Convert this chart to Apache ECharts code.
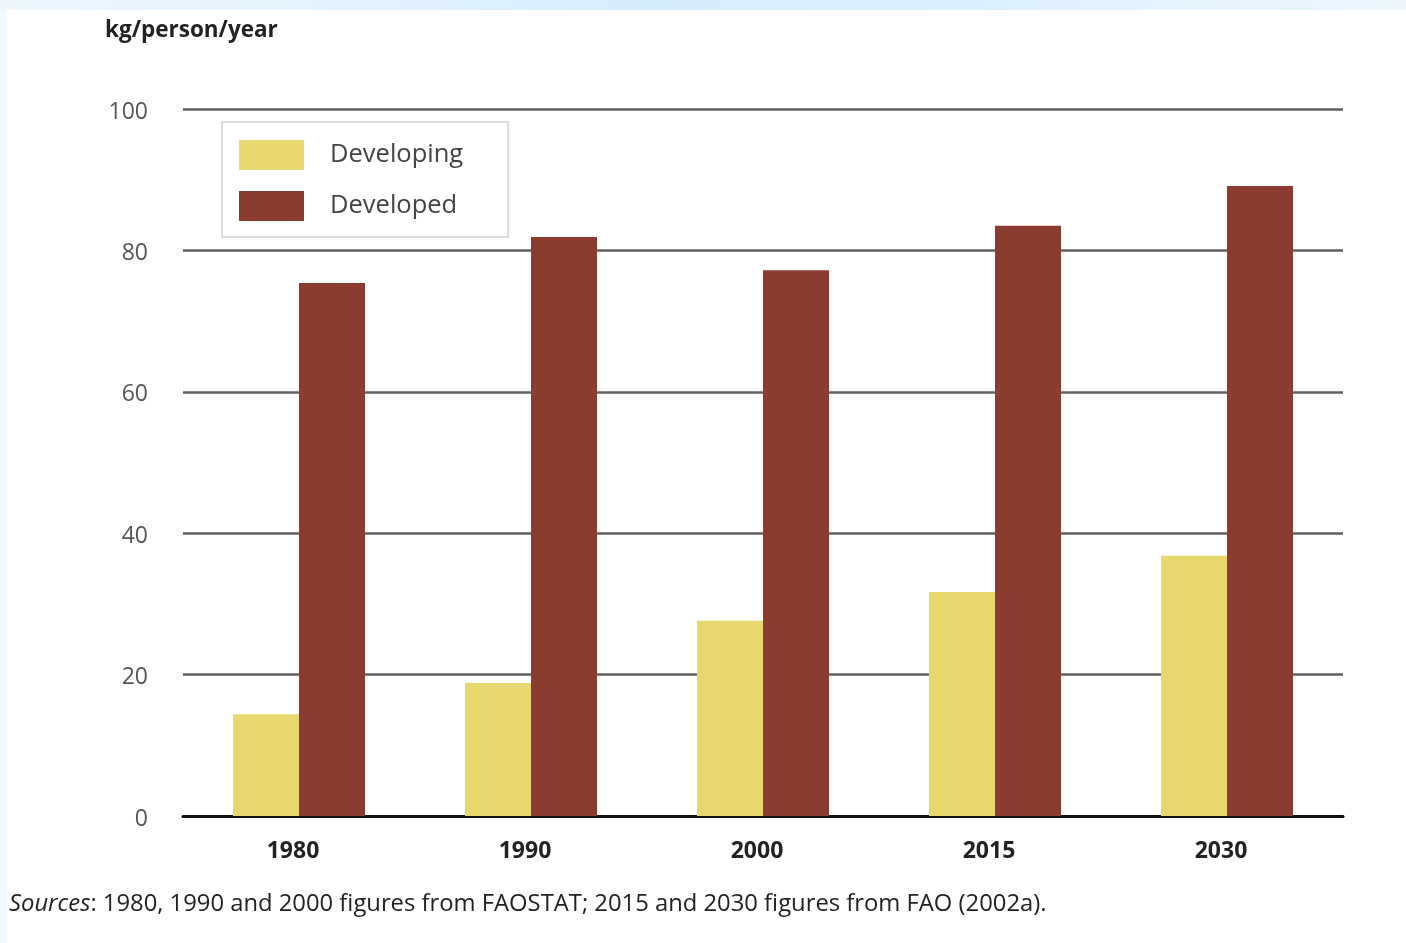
<!DOCTYPE html>
<html>
<head>
<meta charset="utf-8">
<script src="https://cdn.jsdelivr.net/npm/echarts@6/dist/echarts.min.js"></script>
<style>
  html, body { margin: 0; padding: 0; width: 1406px; height: 943px; overflow: hidden; }
  body { background: #f1f8fe; position: relative; }
  #band { position: absolute; left: 0; top: 0; width: 1406px; height: 10px;
          background: linear-gradient(to right, #eef7fe 0%, #d8edfb 45%, #dcefFC 70%, #eef7fe 100%); }
  #panel { position: absolute; left: 7px; top: 10px; right: 0; bottom: 0; background: #ffffff; }
  #chart { position: absolute; left: 0; top: 0; width: 1406px; height: 943px; }
</style>
</head>
<body>
<div id="band"></div>
<div id="panel"></div>
<div id="chart"></div>
<script>
// Meat consumption per person, developing vs developed countries
const years = ['1980', '1990', '2000', '2015', '2030'];
const developing = [14.4, 18.8, 27.6, 31.7, 36.8];
const developed = [75.4, 81.9, 77.2, 83.5, 89.1];
const yTicks = [0, 20, 40, 60, 80, 100];

const FONT = '"Open Sans", "Noto Sans", sans-serif';

const chart = echarts.init(document.getElementById('chart'), null, { renderer: 'canvas' });

chart.setOption({
  backgroundColor: 'transparent',
  animation: false,
  textStyle: { fontFamily: FONT },
  title: [
    {
      text: 'kg/person/year',
      left: 100, top: 14,
      textStyle: { fontFamily: FONT, fontSize: 22.5, fontWeight: 'bold', color: '#222' }
    },
    {
      text: '{i|Sources}: 1980, 1990 and 2000 figures from FAOSTAT; 2015 and 2030 figures from FAO (2002a).',
      left: 4, top: 887,
      textStyle: {
        fontFamily: FONT, fontSize: 23.8, fontWeight: 'normal', color: '#222',
        rich: { i: { fontFamily: FONT, fontSize: 23.8, fontStyle: 'italic', color: '#222' } }
      }
    }
  ],
  legend: {
    orient: 'vertical',
    left: 222, top: 122,
    padding: [18, 45, 16, 17],
    itemGap: 21,
    itemWidth: 65, itemHeight: 30,
    borderColor: '#dcdcdc', borderWidth: 2,
    backgroundColor: '#ffffff',
    icon: 'rect',
    textStyle: { fontFamily: FONT, fontSize: 25.5, color: '#444', padding: [0, 0, 0, 21] },
    data: ['Developing', 'Developed']
  },
  grid: { left: 183, right: 63, top: 109, bottom: 127, containLabel: false },
  xAxis: {
    type: 'category',
    data: years,
    axisLine: { lineStyle: { color: '#111', width: 3 } },
    axisTick: { show: false },
    axisLabel: {
      margin: 24, fontFamily: FONT, fontSize: 23, fontWeight: 'bold', color: '#222',
      padding: [0, 12, 0, 0]
    }
  },
  yAxis: {
    type: 'value',
    min: yTicks[0], max: yTicks[yTicks.length - 1], interval: 20,
    axisLine: { show: false },
    axisTick: { show: false },
    axisLabel: {
      margin: 35, fontFamily: FONT, fontSize: 23, color: '#555',
      verticalAlign: 'top', lineHeight: 6
    },
    splitLine: { lineStyle: { color: '#606060', width: 2.5 } }
  },
  series: [
    {
      name: 'Developing', type: 'bar', data: developing,
      barWidth: 66, barGap: '0%',
      itemStyle: { color: '#e8d76f' }
    },
    {
      name: 'Developed', type: 'bar', data: developed,
      barWidth: 66, barGap: '0%',
      itemStyle: { color: '#8c3b31' }
    }
  ]
});
</script>
</body>
</html>
